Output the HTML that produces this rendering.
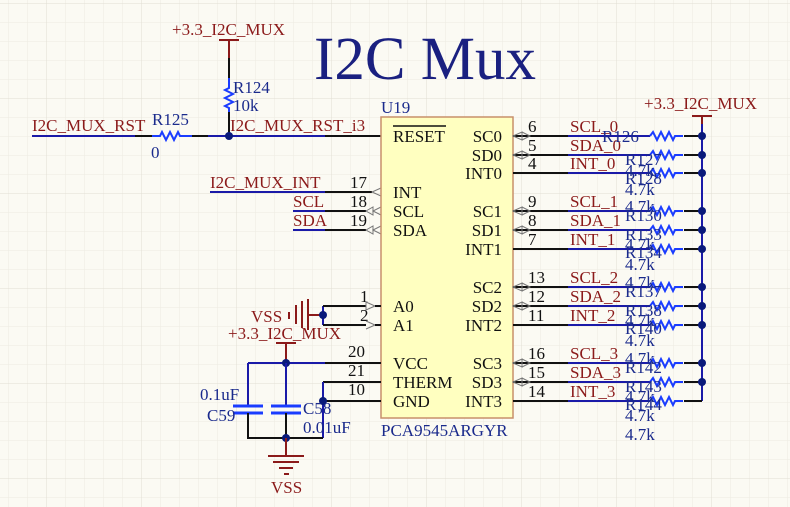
<!DOCTYPE html>
<html><head><meta charset="utf-8"><style>
html,body{margin:0;padding:0;background:#fbfaf3;}
svg{display:block;font-family:"Liberation Serif",serif;}
.r{fill:#8b1a1a;font-size:17px}
.b{fill:#1a2a8c;font-size:17px}
.k{fill:#111;font-size:17px}
.w{stroke:#111;stroke-width:2;fill:none}
.bl{stroke:#1a1aa8;stroke-width:2;fill:none}
.dr{stroke:#8b1a1a;stroke-width:2;fill:none}
.res{stroke:#1a3cff;stroke-width:2;fill:none}
</style></head><body>
<svg width="790" height="507" viewBox="0 0 790 507">
<defs>
<pattern id="g" width="19" height="19" patternUnits="userSpaceOnUse" x="9" y="4">
<path d="M19 0V19M0 19H19" stroke="#ecebe2" stroke-width="1" fill="none"/>
</pattern>
<pattern id="g2" width="95" height="95" patternUnits="userSpaceOnUse" x="47" y="4">
<path d="M95 0V95M0 95H95" stroke="#e0ded3" stroke-width="1" fill="none"/>
</pattern>
</defs>
<rect width="790" height="507" fill="url(#g)"/>
<rect width="790" height="507" fill="url(#g2)"/>

<text x="314" y="79" style="font-size:61px;fill:#1a2080">I2C Mux</text>

<text x="172" y="35" class="r">+3.3_I2C_MUX</text>
<path class="dr" d="M219 40H239M229 40V58"/>
<path class="w" d="M229 58V78"/>
<path class="res" d="M229 78V88l-4 2 8 4-8 4 8 4-8 4 4 2V112"/>
<path class="w" d="M229 112V136"/>
<text x="233" y="93" class="b">R124</text>
<text x="233" y="111" class="b">10k</text>

<text x="32" y="131" class="r">I2C_MUX_RST</text>
<path class="bl" d="M32 136H135"/>
<path class="w" d="M135 136H152"/>
<path class="res" d="M152 136h8l2-4 4 8 4-8 4 8 4-8 2 4h12"/>
<path class="w" d="M192 136H208"/>
<path class="bl" d="M208 136H325"/>
<path class="w" d="M325 136H381"/>
<text x="152" y="125" class="b">R125</text>
<text x="151" y="158" class="b">0</text>
<circle cx="229" cy="136" r="4" fill="#0a1a7a"/>
<text x="230" y="131" class="r">I2C_MUX_RST_i3</text>

<text x="210" y="188" class="r">I2C_MUX_INT</text>
<path class="bl" d="M210 192H325"/><path class="w" d="M325 192H372"/>
<text x="293" y="207" class="r">SCL</text>
<path class="bl" d="M293 211H325"/><path class="w" d="M325 211H366"/>
<text x="293" y="226" class="r">SDA</text>
<path class="bl" d="M293 230H325"/><path class="w" d="M325 230H366"/>
<text x="350" y="188" class="k">17</text>
<text x="350" y="207" class="k">18</text>
<text x="350" y="226" class="k">19</text>
<path d="M381 188l-9 4 9 4" fill="none" stroke="#777"/>
<path d="M381 207l-8 4 8 4M366 211l7-4 0 8z" fill="none" stroke="#777"/>
<path d="M381 226l-8 4 8 4M366 230l7-4 0 8z" fill="none" stroke="#777"/>

<rect x="381" y="117" width="132" height="301" fill="#ffffc0" stroke="#c8906a" stroke-width="1.5"/>
<text x="381" y="113" class="b">U19</text>
<text x="381" y="436" class="b">PCA9545ARGYR</text>
<g class="k">
<text x="393" y="142">RESET</text>
<line x1="393" y1="126" x2="446" y2="126" stroke="#111" stroke-width="1.5"/>
<text x="393" y="198">INT</text>
<text x="393" y="217">SCL</text>
<text x="393" y="236">SDA</text>
<text x="393" y="312">A0</text>
<text x="393" y="331">A1</text>
<text x="393" y="369">VCC</text>
<text x="393" y="388">THERM</text>
<text x="393" y="407">GND</text>
</g>
<g class="k" text-anchor="end">
<text x="502" y="142">SC0</text><text x="502" y="161">SD0</text><text x="502" y="179">INT0</text>
<text x="502" y="217">SC1</text><text x="502" y="236">SD1</text><text x="502" y="255">INT1</text>
<text x="502" y="293">SC2</text><text x="502" y="312">SD2</text><text x="502" y="331">INT2</text>
<text x="502" y="369">SC3</text><text x="502" y="388">SD3</text><text x="502" y="407">INT3</text>
</g>

<text x="644" y="109" class="r">+3.3_I2C_MUX</text>
<path class="dr" d="M692 116H712M702 116V124"/>
<path class="bl" d="M702 124V401"/>
<g>
<path class="w" d="M513 136H568M513 155H568M513 173H568M513 211H568M513 230H568M513 249H568M513 287H568M513 306H568M513 325H568M513 363H568M513 382H568M513 401H568"/>
<path class="bl" d="M568 136H650M568 155H650M568 173H650M568 211H650M568 230H650M568 249H650M568 287H650M568 306H650M568 325H650M568 363H650M568 382H650M568 401H650"/>
<g class="res">
<path d="M650 136l3-4 4 8 4-8 4 8 4-8 4 8 2-4h8"/>
<path d="M650 155l3-4 4 8 4-8 4 8 4-8 4 8 2-4h8"/>
<path d="M650 173l3-4 4 8 4-8 4 8 4-8 4 8 2-4h8"/>
<path d="M650 211l3-4 4 8 4-8 4 8 4-8 4 8 2-4h8"/>
<path d="M650 230l3-4 4 8 4-8 4 8 4-8 4 8 2-4h8"/>
<path d="M650 249l3-4 4 8 4-8 4 8 4-8 4 8 2-4h8"/>
<path d="M650 287l3-4 4 8 4-8 4 8 4-8 4 8 2-4h8"/>
<path d="M650 306l3-4 4 8 4-8 4 8 4-8 4 8 2-4h8"/>
<path d="M650 325l3-4 4 8 4-8 4 8 4-8 4 8 2-4h8"/>
<path d="M650 363l3-4 4 8 4-8 4 8 4-8 4 8 2-4h8"/>
<path d="M650 382l3-4 4 8 4-8 4 8 4-8 4 8 2-4h8"/>
<path d="M650 401l3-4 4 8 4-8 4 8 4-8 4 8 2-4h8"/>
</g>
<path class="w" d="M684 136H702M684 155H702M684 173H702M684 211H702M684 230H702M684 249H702M684 287H702M684 306H702M684 325H702M684 363H702M684 382H702M684 401H702"/>
<g fill="#0a1a7a">
<circle cx="702" cy="136" r="4"/><circle cx="702" cy="155" r="4"/><circle cx="702" cy="173" r="4"/>
<circle cx="702" cy="211" r="4"/><circle cx="702" cy="230" r="4"/><circle cx="702" cy="249" r="4"/>
<circle cx="702" cy="287" r="4"/><circle cx="702" cy="306" r="4"/><circle cx="702" cy="325" r="4"/>
<circle cx="702" cy="363" r="4"/><circle cx="702" cy="382" r="4"/>
</g>
<g fill="none" stroke="#777">
<path d="M513 136l9-4v8zM522 132l8 4-8 4"/><path d="M513 155l9-4v8zM522 151l8 4-8 4"/>
<path d="M513 211l9-4v8zM522 207l8 4-8 4"/><path d="M513 230l9-4v8zM522 226l8 4-8 4"/>
<path d="M513 287l9-4v8zM522 283l8 4-8 4"/><path d="M513 306l9-4v8zM522 302l8 4-8 4"/>
<path d="M513 363l9-4v8zM522 359l8 4-8 4"/><path d="M513 382l9-4v8zM522 378l8 4-8 4"/>
</g>
<g class="k">
<text x="528" y="132">6</text><text x="528" y="151">5</text><text x="528" y="169">4</text>
<text x="528" y="207">9</text><text x="528" y="226">8</text><text x="528" y="245">7</text>
<text x="528" y="283">13</text><text x="528" y="302">12</text><text x="528" y="321">11</text>
<text x="528" y="359">16</text><text x="528" y="378">15</text><text x="528" y="397">14</text>
</g>
<g class="r">
<text x="570" y="132">SCL_0</text><text x="570" y="151">SDA_0</text><text x="570" y="169">INT_0</text>
<text x="570" y="207">SCL_1</text><text x="570" y="226">SDA_1</text><text x="570" y="245">INT_1</text>
<text x="570" y="283">SCL_2</text><text x="570" y="302">SDA_2</text><text x="570" y="321">INT_2</text>
<text x="570" y="359">SCL_3</text><text x="570" y="378">SDA_3</text><text x="570" y="397">INT_3</text>
</g>
<g class="b">
<text x="602" y="142">R126</text>
<text x="625" y="165">R127</text><text x="625" y="176">4.7k</text>
<text x="625" y="184">R128</text><text x="625" y="195">4.7k</text>
<text x="625" y="212">4.7k</text>
<text x="625" y="221">R130</text>
<text x="625" y="240">R133</text><text x="625" y="250">4.7k</text>
<text x="625" y="258">R134</text><text x="625" y="270">4.7k</text>
<text x="625" y="288">4.7k</text>
<text x="625" y="297">R137</text>
<text x="625" y="316">R138</text><text x="625" y="326">4.7k</text>
<text x="625" y="334">R140</text><text x="625" y="346">4.7k</text>
<text x="625" y="364">4.7k</text>
<text x="625" y="373">R142</text>
<text x="625" y="392">R143</text><text x="625" y="402">4.7k</text>
<text x="625" y="410">R144</text><text x="625" y="421">4.7k</text>
<text x="625" y="440">4.7k</text>
</g>
</g>

<text x="251" y="322" class="r">VSS</text>
<path class="dr" d="M289 312V319M296 305V324M302 301V328M308 299V330M308 315H323"/>
<path class="bl" d="M323 306V325"/>
<path class="w" d="M323 306H366M323 325H366"/>
<circle cx="323" cy="315" r="4" fill="#0a1a7a"/>
<text x="360" y="302" class="k">1</text><text x="360" y="321" class="k">2</text>
<path d="M366 302l9 4-9 4zM366 321l9 4-9 4" fill="none" stroke="#777"/>
<path class="w" d="M375 306H381M375 325H381"/>

<text x="228" y="339" class="r">+3.3_I2C_MUX</text>
<path class="dr" d="M276 343H296M286 343V363"/>
<path class="bl" d="M248 363H325"/><path class="w" d="M325 363H381"/>
<circle cx="286" cy="363" r="4" fill="#0a1a7a"/>
<text x="348" y="357" class="k">20</text>
<text x="348" y="376" class="k">21</text>
<text x="348" y="395" class="k">10</text>
<path class="w" d="M323 382H381M323 401H381"/>
<path class="bl" d="M323 382V438"/>
<circle cx="323" cy="401" r="4" fill="#0a1a7a"/>
<path class="bl" d="M248 363V405M286 363V405"/>
<path d="M233 406H263M233 413H263M271 406H301M271 413H301" stroke="#1a3cff" stroke-width="3"/>
<path class="w" d="M248 413V438H323M286 413V438"/>
<circle cx="286" cy="438" r="4" fill="#0a1a7a"/>
<text x="200" y="400" class="b">0.1uF</text>
<text x="207" y="421" class="b">C59</text>
<text x="303" y="414" class="b">C58</text>
<text x="303" y="433" class="b">0.01uF</text>
<path class="dr" d="M286 438V456M268 456H304M273 462H299M279 468H293M284 474H289"/>
<text x="271" y="493" class="r">VSS</text>
</svg>
</body></html>
